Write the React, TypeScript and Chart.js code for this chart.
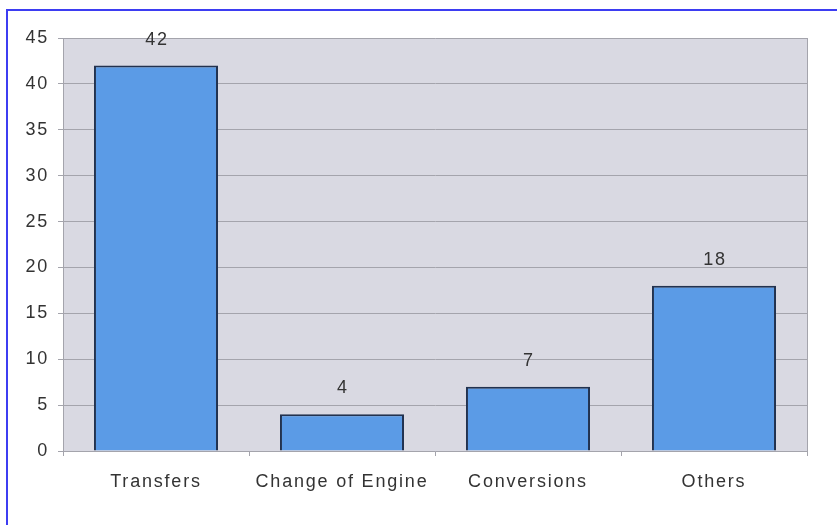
import React, { useEffect, useRef } from "react";
import { Chart, registerables } from "chart.js";

Chart.register(...registerables);

const categories = ["Transfers", "Change of Engine", "Conversions", "Others"];
const values = [42, 4, 7, 18];
const yMax = 45;
const yStep = 5;

const FONT = { family: "'Liberation Sans', Arial, sans-serif", size: 18 };
const TEXT = "#333333";
const SPACING = "1.8px";

const spacingPlugin = {
  id: "spacing",
  beforeLayout(chart: any) {
    chart.ctx.letterSpacing = SPACING;
  },
  beforeDraw(chart: any) {
    const { ctx, chartArea } = chart;
    ctx.letterSpacing = SPACING;
    ctx.save();
    ctx.fillStyle = "#d9d9e2";
    ctx.fillRect(chartArea.left, chartArea.top, chartArea.right - chartArea.left, chartArea.bottom - chartArea.top);
    ctx.restore();
  },
  afterDraw(chart: any) {
    const { ctx, chartArea } = chart;
    ctx.save();
    ctx.strokeStyle = "#a4a4ac";
    ctx.lineWidth = 1;
    ctx.beginPath();
    ctx.moveTo(chartArea.right + 0.5, chartArea.top);
    ctx.lineTo(chartArea.right + 0.5, chartArea.bottom);
    ctx.stroke();
    ctx.restore();
  },
};

const valueLabelPlugin = {
  id: "valueLabels",
  afterDatasetsDraw(chart: any) {
    const { ctx } = chart;
    const meta = chart.getDatasetMeta(0);
    ctx.save();
    ctx.letterSpacing = SPACING;
    ctx.font = `${FONT.size}px ${FONT.family}`;
    ctx.fillStyle = TEXT;
    ctx.textAlign = "center";
    ctx.textBaseline = "middle";
    meta.data.forEach((bar: any, i: number) => {
      ctx.fillText(String(chart.data.datasets[0].data[i]), bar.x + 1, bar.y - 26);
    });
    ctx.restore();
  },
};

export default function App() {
  const ref = useRef<HTMLCanvasElement | null>(null);
  useEffect(() => {
    if (!ref.current) return;
    const chart = new Chart(ref.current, {
      type: "bar",
      data: {
        labels: categories,
        datasets: [
          {
            data: values,
            backgroundColor: "#5b9be6",
            borderColor: "#22324f",
            borderWidth: 2,
            categoryPercentage: 1,
            barPercentage: 0.667,
          },
        ],
      },
      options: {
        animation: false,
        responsive: false,
        layout: { padding: { left: 0, top: 38, right: 30, bottom: 0 } },
        plugins: { legend: { display: false }, tooltip: { enabled: false } },
        scales: {
          x: {
            grid: { display: true, drawOnChartArea: false, color: "#a4a4ac", tickLength: 5, offset: true },
            border: { display: true, color: "#a4a4ac", width: 1 },
            ticks: { color: TEXT, font: FONT, padding: 15, maxRotation: 0, autoSkip: false },
            afterFit(scale: any) {
              scale.height = 74;
            },
          },
          y: {
            min: 0,
            max: yMax,
            grid: { color: "#a4a4ac", lineWidth: 1, tickLength: 5 },
            border: { display: true, color: "#a4a4ac", width: 1 },
            ticks: { stepSize: yStep, color: TEXT, font: FONT, padding: 9 },
            afterFit(scale: any) {
              scale.width = 63;
            },
          },
        },
      },
      plugins: [spacingPlugin, valueLabelPlugin],
    });
    return () => chart.destroy();
  }, []);

  return (
    <div style={{ position: "fixed", left: 0, top: 0, width: 837, height: 525, background: "#fff", overflow: "hidden" }}>
      <div
        style={{
          position: "absolute",
          left: 6,
          top: 9,
          right: -10,
          bottom: -10,
          borderTop: "2px solid #3d3df2",
          borderLeft: "2px solid #3d3df2",
        }}
      />
      <canvas ref={ref} width={837} height={525} style={{ position: "absolute", left: 0, top: 0, width: 837, height: 525 }} />
    </div>
  );
}
